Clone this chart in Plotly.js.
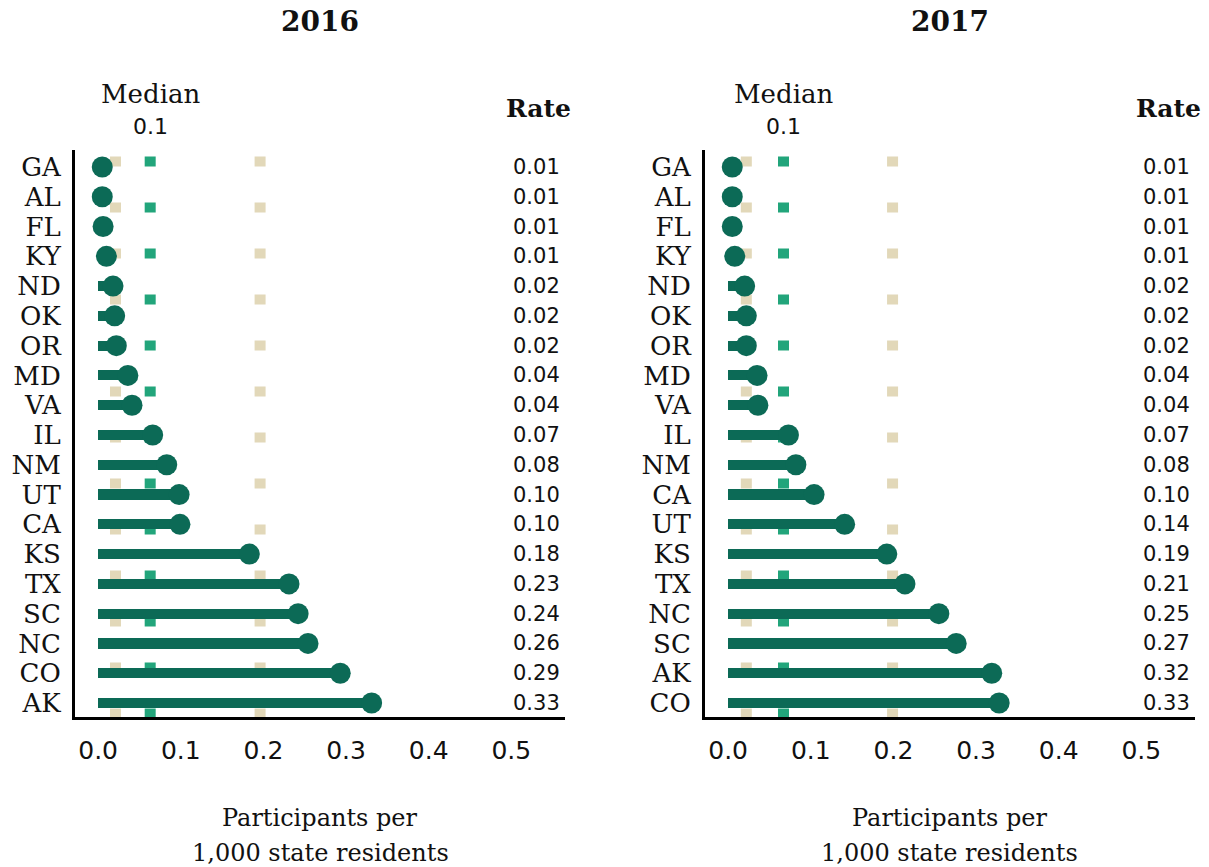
<!DOCTYPE html>
<html>
<head>
<meta charset="utf-8">
<script src="https://cdn.plot.ly/plotly-3.0.1.min.js"></script>
<style>html,body{margin:0;padding:0;background:#fff;}#chart{width:1209px;height:867px;}</style>
</head>
<body>
<div id="chart"></div>
<script>
// ---- data ----
const states2016 = ["GA","AL","FL","KY","ND","OK","OR","MD","VA","IL","NM","UT","CA","KS","TX","SC","NC","CO","AK"];
const values2016 = [0.005,0.005,0.006,0.010,0.018,0.020,0.022,0.036,0.041,0.066,0.083,0.098,0.099,0.183,0.231,0.242,0.254,0.293,0.331];
const rates2016  = ["0.01","0.01","0.01","0.01","0.02","0.02","0.02","0.04","0.04","0.07","0.08","0.10","0.10","0.18","0.23","0.24","0.26","0.29","0.33"];
const refs2016   = [0.021, 0.063, 0.196]; // lower, median, upper guide lines

const states2017 = ["GA","AL","FL","KY","ND","OK","OR","MD","VA","IL","NM","CA","UT","KS","TX","NC","SC","AK","CO"];
const values2017 = [0.005,0.005,0.005,0.008,0.020,0.022,0.022,0.035,0.036,0.073,0.082,0.104,0.141,0.192,0.214,0.255,0.276,0.319,0.328];
const rates2017  = ["0.01","0.01","0.01","0.01","0.02","0.02","0.02","0.04","0.04","0.07","0.08","0.10","0.14","0.19","0.21","0.25","0.27","0.32","0.33"];
const refs2017   = [0.022, 0.067, 0.199];

const years = ["2016","2017"];
const medianLabel = "0.1";
const xTicks = [0,0.1,0.2,0.3,0.4,0.5];
const xTickText = ["0.0","0.1","0.2","0.3","0.4","0.5"];

// ---- style ----
const DARK = "#0c6a56";
const MED = "#22a57b";
const TAN = "#e2d8b9";
const SERIF = "DejaVu Serif, serif";
const SANS = "DejaVu Sans, sans-serif";
const INK = "#111111";

const panels = [
  {states: states2016, values: values2016, rates: rates2016, refs: refs2016, xa: "x", ya: "y", year: years[0]},
  {states: states2017, values: values2017, rates: rates2017, refs: refs2017, xa: "x2", ya: "y2", year: years[1]}
];

const traces = [];
const shapes = [];
const annotations = [];
const H = 867;
const py = p => 1 - p / H;

panels.forEach(p => {
  traces.push({
    type: "bar", orientation: "h", x: p.values, y: p.states,
    xaxis: p.xa, yaxis: p.ya, width: 0.34,
    marker: {color: DARK, line: {width: 0}}, hoverinfo: "skip", showlegend: false
  });
  traces.push({
    type: "scatter", mode: "markers", x: p.values, y: p.states,
    xaxis: p.xa, yaxis: p.ya,
    marker: {color: DARK, size: 21, line: {width: 0}}, showlegend: false
  });
  p.refs.forEach((v, i) => {
    shapes.push({
      type: "line", layer: "below", xref: p.xa, yref: p.ya + " domain",
      x0: v, x1: v, y0: 0.9885, y1: 0,
      line: {color: i === 1 ? MED : TAN, width: 11, dash: "10px,36px"}
    });
  });
  p.rates.forEach((r, i) => {
    annotations.push({
      xref: p.xa + " domain", yref: p.ya, x: 0.994, y: p.states[i],
      xanchor: "right", yanchor: "middle", text: r, showarrow: false,
      font: {family: SANS, size: 21, color: INK}
    });
  });
  // year title
  annotations.push({xref: p.xa + " domain", yref: "paper", x: 0.5, y: py(22), xanchor: "center", yanchor: "middle",
    text: "<b>" + p.year + "</b>", showarrow: false, font: {family: SERIF, size: 28, color: INK}});
  // Rate header
  annotations.push({xref: p.xa + " domain", yref: "paper", x: 0.945, y: py(108), xanchor: "center", yanchor: "middle",
    text: "<b>Rate</b>", showarrow: false, font: {family: SERIF, size: 25, color: INK}});
  // Median label
  annotations.push({xref: p.xa, yref: "paper", x: p.refs[1], y: py(94), xanchor: "center", yanchor: "middle",
    text: "Median", showarrow: false, font: {family: SERIF, size: 26, color: INK}});
  annotations.push({xref: p.xa, yref: "paper", x: p.refs[1], y: py(127), xanchor: "center", yanchor: "middle",
    text: medianLabel, showarrow: false, font: {family: SANS, size: 22, color: INK}});
  // axis title (two lines)
  annotations.push({xref: p.xa + " domain", yref: "paper", x: 0.5, y: py(818), xanchor: "center", yanchor: "middle",
    text: "Participants per", showarrow: false, font: {family: SERIF, size: 24, color: INK}});
  annotations.push({xref: p.xa + " domain", yref: "paper", x: 0.5, y: py(853), xanchor: "center", yanchor: "middle",
    text: "1,000 state residents", showarrow: false, font: {family: SERIF, size: 24, color: INK}});
});

const xaxisBase = {
  range: [-0.028, 0.565], showgrid: false, zeroline: false, showline: true, linewidth: 3, linecolor: "#000",
  ticks: "", tickmode: "array", tickvals: xTicks, ticktext: xTickText, ticklabelstandoff: 9,
  tickfont: {family: SANS, size: 25, color: INK}, fixedrange: true
};
const yaxisBase = {
  type: "category", range: [18.47, -0.57], showgrid: false, zeroline: false, showline: true, linewidth: 3, linecolor: "#000",
  ticks: "", ticklabelstandoff: 6, tickfont: {family: SERIF, size: 26, color: INK}, fixedrange: true
};

const W = 1209;
const layout = {
  width: W, height: H, margin: {l: 0, r: 0, t: 0, b: 0},
  paper_bgcolor: "#fff", plot_bgcolor: "rgba(0,0,0,0)",
  showlegend: false, bargap: 0,
  xaxis: Object.assign({}, xaxisBase, {domain: [75 / W, 565 / W], anchor: "y"}),
  xaxis2: Object.assign({}, xaxisBase, {domain: [705 / W, 1195 / W], anchor: "y2"}),
  yaxis: Object.assign({}, yaxisBase, {domain: [py(717), py(150)], anchor: "x",
    categoryarray: states2016, categoryorder: "array", tickmode: "array", tickvals: states2016, ticktext: states2016}),
  yaxis2: Object.assign({}, yaxisBase, {domain: [py(717), py(150)], anchor: "x2",
    categoryarray: states2017, categoryorder: "array", tickmode: "array", tickvals: states2017, ticktext: states2017}),
  shapes: shapes,
  annotations: annotations
};

Plotly.newPlot("chart", traces, layout, {displayModeBar: false, staticPlot: true});
</script>
</body>
</html>
